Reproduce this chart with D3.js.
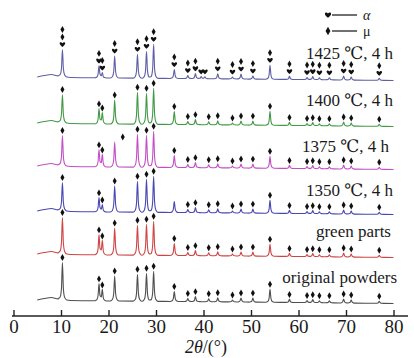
<!DOCTYPE html>
<html><head><meta charset="utf-8">
<script src="https://cdn.jsdelivr.net/npm/d3@7"></script>
<style>body{margin:0;background:#fff;} svg{display:block;} text{font-family:"Liberation Serif","DejaVu Serif","Noto Sans CJK SC",serif;}</style>
</head><body>
<svg id="c" width="414" height="358"></svg>
<script>
// ---------- data ----------
const xTicks = [0, 10, 20, 30, 40, 50, 60, 70, 80];
const xLabel = "2θ/(°)";
const peaks = [10.3, 18.0, 18.7, 21.3, 26.1, 28.0, 29.5, 33.85, 36.7, 38.3, 39.5, 40.3, 41.1, 43.0, 46.1, 47.9, 50.4, 54.0, 58.1, 61.8, 63.0, 64.4, 66.5, 69.5, 71.1, 77.0];
const seriesNames = ["original powders", "green parts", "1350 ℃, 4 h", "1375 ℃, 4 h", "1400 ℃, 4 h", "1425 ℃, 4 h"];
const seriesOffsets = [0, 46, 89, 134, 177, 223];
const hOriginal = [37, 17, 11, 25, 27, 28, 30, 10, 3, 5, 0, 0, 3, 4, 2, 4, 4, 13, 3, 2, 3, 2, 2, 4, 3, 2];
const hGreen    = [36, 20, 14, 27, 30, 31, 34, 12, 3, 5, 0, 0, 3, 4, 2, 4, 4, 12, 3, 2, 3, 2, 2, 4, 3, 2];
const h1350     = [28, 14, 7, 26, 31, 33, 36, 11, 3, 5, 0, 0, 3, 4, 2, 4, 4, 13, 3, 2, 3, 2, 2, 4, 3, 2];
const h1375     = [30, 17, 12, 25, 33, 32, 36, 12, 3, 5, 0, 0, 3, 4, 2, 4, 4, 12, 3, 2, 3, 2, 2, 4, 3, 2];
const h1400     = [28, 15, 11, 24, 32, 31, 36, 13, 3, 5, 0, 0, 3, 4, 2, 4, 4, 14, 3, 2, 3, 2, 2, 4, 3, 2];
const h1425     = [27, 12, 5, 22, 24, 27, 34, 9, 3, 5, 2, 2, 0, 5, 2, 5, 3, 14, 3, 2, 3, 2, 2, 4, 3, 2];
const bgX = [5, 6.5, 8, 9.5, 12, 20, 35, 60, 80];
const bgY = [0, 1.5, 2.5, 1, -0.5, -1, -1.5, -2.5, -3.5];
const marksMu   = [10.3, 18.0, 18.7, 21.3, 26.1, 28.0, 29.5, 33.85, 36.7, 38.3, 41.1, 43.0, 46.1, 47.9, 50.4, 54.0, 58.1, 61.8, 63.0, 64.4, 66.5, 69.5, 71.1, 77.0];
const marks1350 = [10.3, 18.0, 18.7, 21.3, 26.1, 28.0, 29.5, 36.7, 38.3, 41.1, 43.0, 46.1, 47.9, 50.4, 54.0, 58.1, 61.8, 63.0, 64.4, 66.5, 69.5, 71.1, 77.0];
const marks1375 = [10.3, 18.0, 18.7, 23.0, 26.1, 28.0, 29.5, 33.85, 36.7, 38.3, 41.1, 43.0, 46.1, 47.9, 50.4, 54.0, 58.1, 61.8, 63.0, 64.4, 66.5, 69.5, 71.1, 77.0];
const marks1425 = [10.3, 18.0, 18.7, 21.3, 26.1, 28.0, 29.5, 33.85, 36.7, 38.3, 39.5, 40.3, 43.0, 46.1, 47.9, 50.4, 54.0, 58.1, 61.8, 63.0, 64.4, 66.5, 69.5, 71.1, 77.0];
const types1425 = ["ddh","dh","dh","dh","dh","dh","dh","dh","dh","dh","h","h","dh","dh","dh","dh","dh","dh","dh","dh","dh","dh","dh","dh","dh"];
const legendLabels = ["α", "μ"];

// ---------- styles ----------
const colors = ["#4f4f4f", "#cf4444", "#4848b2", "#c24fc6", "#429a45", "#5f5fa6"];
const heights = [hOriginal, hGreen, h1350, h1375, h1400, h1425];
const markLists = [marksMu, marksMu, marks1350, marks1375, marksMu, marks1425];
const labelPos = [[397, 283], [391, 237], [393, 196], [389, 152], [393, 106], [393, 59]];

const svg = d3.select("#c");
const x = d3.scaleLinear().domain([0, 80]).range([13.5, 393.5]);
const y = d3.scaleLinear().domain([0, 300]).range([300, 0]);

const shape = [[-0.9, 0], [-0.45, 0.07], [-0.2, 0.3], [0, 1], [0.2, 0.3], [0.45, 0.07], [0.9, 0]];
function interp(xs, ys, v) {
  if (v <= xs[0]) return ys[0];
  for (let i = 1; i < xs.length; i++) if (v <= xs[i]) {
    const t = (v - xs[i - 1]) / (xs[i] - xs[i - 1]);
    return ys[i - 1] + t * (ys[i] - ys[i - 1]);
  }
  return ys[ys.length - 1];
}
const shX = shape.map(d => d[0]), shY = shape.map(d => d[1]);
function profile(hs) {
  let xs = new Set(bgX);
  peaks.forEach((p, i) => { if (hs[i] > 0) shape.forEach(s => xs.add(+(p + s[0]).toFixed(3))); });
  xs = Array.from(xs).filter(v => v >= 5 && v <= 80).sort((a, b) => a - b);
  return xs.map(v => {
    let val = interp(bgX, bgY, v);
    peaks.forEach((p, i) => {
      const d = v - p;
      if (hs[i] > 0 && Math.abs(d) < 0.9) val += hs[i] * interp(shX, shY, d);
    });
    return [v, val];
  });
}
const line = d3.line().x(d => x(d[0])).y(d => d[1]).curve(d3.curveMonotoneX);

const heart = "M0,2.5 C-1.1,1.4 -2.8,0.1 -2.8,-1 C-2.8,-2.5 -1,-2.8 0,-1.3 C1,-2.8 2.8,-2.5 2.8,-1 C2.8,0.1 1.1,1.4 0,2.5Z";
const diamond = d3.symbol().type(d3.symbolDiamond).size(14)();

heights.forEach((hs, si) => {
  const off = seriesOffsets[si];
  const pts = profile(hs).map(d => [d[0], y(off + d[1])]);
  svg.append("path").attr("d", line(pts)).attr("fill", "none")
    .attr("stroke", colors[si]).attr("stroke-width", 1.1);
  const g = svg.append("g");
  markLists[si].forEach((m, mi) => {
    let best = 0, bd = 1e9;
    peaks.forEach((p, i) => { if (hs[i] > 0 && Math.abs(p - m) < bd) { bd = Math.abs(p - m); best = i; } });
    const top = y(off + interp(bgX, bgY, peaks[best]) + hs[best]);
    const types = si === 5 ? types1425[mi] : "d";
    const seq = types.split("").reverse();
    seq.forEach((t, k) => {
      const cy = top - 5 - k * 7.5;
      g.append("path").attr("d", t === "h" ? heart : diamond)
        .attr("transform", `translate(${x(m)},${cy})`).attr("fill", "#111");
    });
  });
  svg.append("text").attr("x", labelPos[si][0]).attr("y", labelPos[si][1])
    .attr("text-anchor", "end").attr("font-size", 17)
    .attr("fill", "#1a1a1a").text(seriesNames[si]);
});

// legend
const lg = svg.append("g");
[[heart, 15], [diamond, 31]].forEach((d, i) => {
  lg.append("path").attr("d", d[0]).attr("transform", `translate(328,${d[1]}) scale(${i === 0 ? 1.1 : 1.2})`).attr("fill", "#111");
  lg.append("line").attr("x1", 332).attr("x2", 357).attr("y1", d[1]).attr("y2", d[1]).attr("stroke", "#111").attr("stroke-width", 1.2);
  lg.append("text").attr("x", 363).attr("y", d[1] + 4.5).attr("font-size", 14)
    .attr("font-style", i === 0 ? "italic" : "normal").attr("fill", "#1a1a1a").text(legendLabels[i]);
});

// x axis
const axY = 316;
svg.append("line").attr("x1", 12).attr("x2", 408).attr("y1", axY).attr("y2", axY)
  .attr("stroke", "#222").attr("stroke-width", 1.4);
const ax = svg.append("g").attr("transform", `translate(0,${axY})`)
  .call(d3.axisBottom(x).tickValues(xTicks).tickSizeInner(-6).tickSizeOuter(0).tickPadding(3));
ax.attr("font-family", null);
ax.select(".domain").remove();
ax.selectAll(".tick line").attr("stroke", "#222").attr("stroke-width", 1.4);
ax.selectAll(".tick text").style("font-size", "19px").attr("fill", "#1a1a1a");

const xl = svg.append("text").attr("x", 206).attr("y", 353).attr("text-anchor", "middle")
  .attr("font-size", 18).attr("fill", "#1a1a1a");
xl.append("tspan").attr("font-style", "italic").text(xLabel.slice(0, 2));
xl.append("tspan").text(xLabel.slice(2));
</script>
</body></html>
